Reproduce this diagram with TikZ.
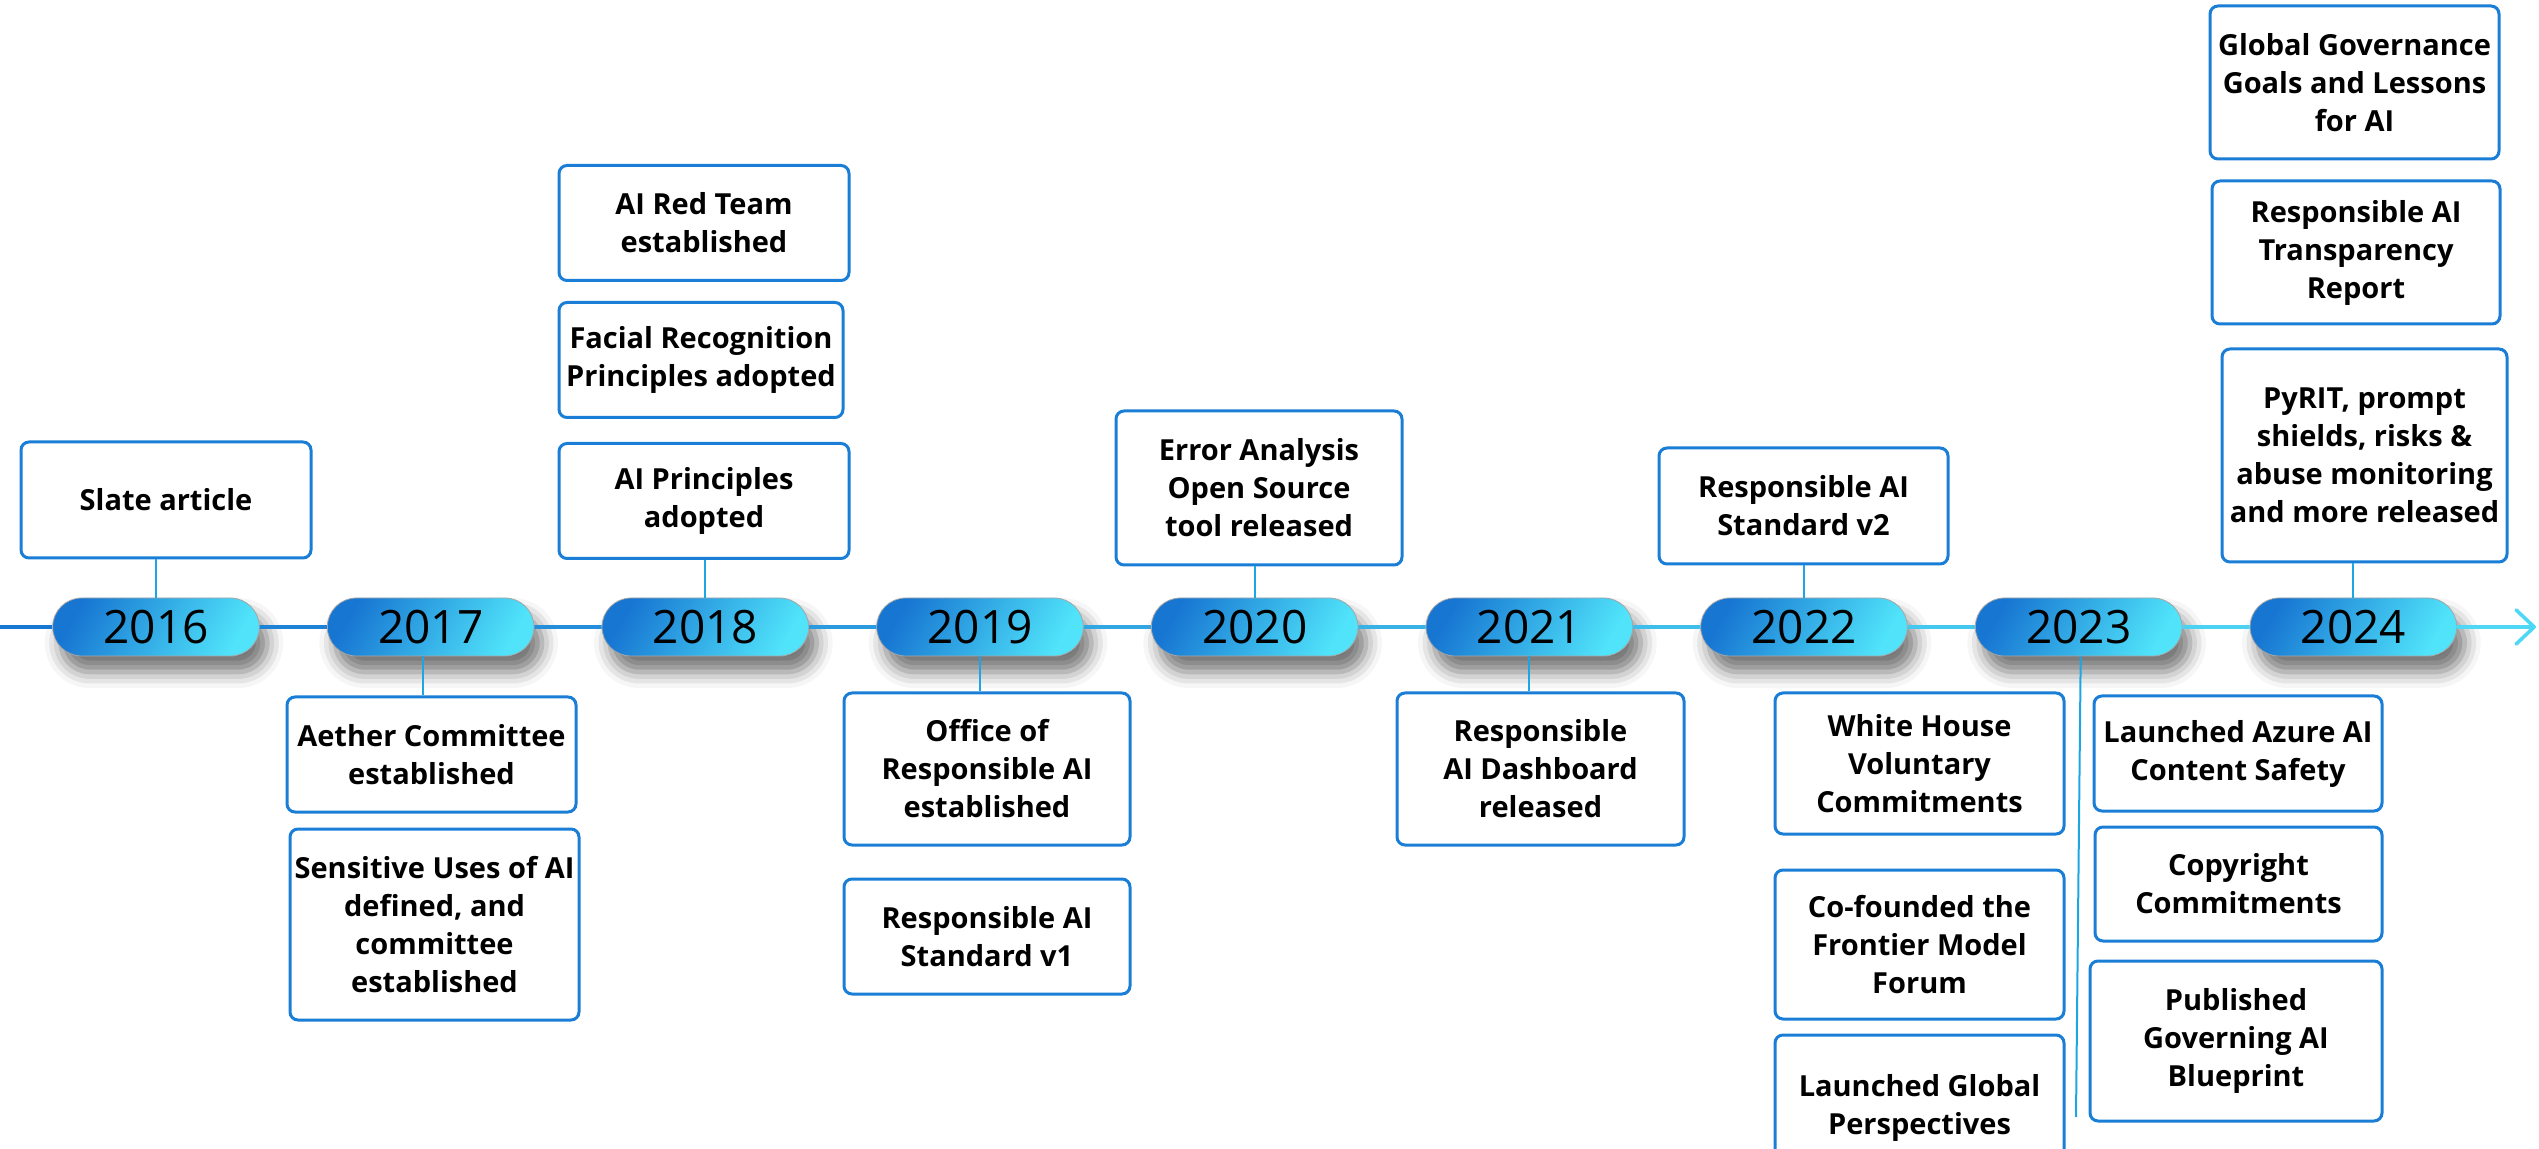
\documentclass[tikz,border=0pt]{standalone}
\usepackage{fontspec}
\setmainfont{Open Sans}
\usepackage{tikz}
\usetikzlibrary{arrows.meta, shapes.misc, shadows.blur, calc}
\definecolor{boxblue}{HTML}{1A7ED6}
\definecolor{linkblue}{HTML}{1CA6E2}
\definecolor{pilldark}{HTML}{1776D2}
\definecolor{pilllight}{HTML}{50E3FA}
\definecolor{linedark}{HTML}{1877D3}
\definecolor{linelight}{HTML}{4ED8F5}
\tikzset{>=latex}

\begin{document}
\begin{tikzpicture}[x=0.5pt, y=-0.5pt,
  event/.style={draw=boxblue, line width=1.5pt, rounded corners=4pt, fill=white,
    align=center, inner sep=1pt, font=\fontsize{14.5}{19}\selectfont\bfseries},
  year/.style={rounded rectangle, minimum width=110pt, minimum height=29pt,
    draw=black!35, line width=0.4pt, left color=pilldark, right color=pilllight,
    shading angle=60, font=\fontsize{23}{27}\selectfont,
    blur shadow={shadow xshift=4pt, shadow yshift=-8pt, shadow blur radius=8pt, shadow opacity=55}},
  spine/.style={line width=1.8pt},
  link/.style={draw=linkblue, line width=1pt}]
\useasboundingbox (0,0) rectangle (2539,1149);

% years on the time line
\foreach \yr [count=\i from 0] in {2016,2017,2018,2019,2020,2021,2022,2023,2024}
  \node[year] (y\yr) at ({156+274.67*\i}, 627) {\yr};

\coordinate (tstart) at (0,627);
\coordinate (tend) at (2536,627);
\foreach \a/\b/\p in {tstart/y2016/0, y2016/y2017/12, y2017/y2018/24, y2018/y2019/36,
  y2019/y2020/48, y2020/y2021/60, y2021/y2022/72, y2022/y2023/84, y2023/y2024/94}
  \draw[spine, draw=linelight!\p!linedark] (\a) -- (\b);
\draw[spine, draw=linelight, line cap=round,
  -{Straight Barb[length=9pt, width=17pt, line cap=round, line join=round]}] (y2024) -- (tend);

% above the line
\node[event, minimum width=145pt, minimum height=58pt] (s2016) at (166,500) {Slate article};
\node[event, minimum width=145pt, minimum height=57.5pt] (r2018a) at (704,223) {AI Red Team\\established};
\node[event, minimum width=142pt, minimum height=57.5pt] (r2018b) at (701,360) {Facial Recognition\\Principles adopted};
\node[event, minimum width=145pt, minimum height=57.5pt] (r2018c) at (704,501) {AI Principles\\adopted};
\node[event, minimum width=143pt, minimum height=77pt] (e2020) at (1259,488) {Error Analysis\\Open Source\\tool released};
\node[event, minimum width=144.5pt, minimum height=58pt] (v2022) at (1803.5,506) {Responsible AI\\Standard v2};
\node[event, minimum width=144.5pt, minimum height=76.5pt] (g2024a) at (2354.5,82.5) {Global Governance\\Goals and Lessons\\for AI};
\node[event, minimum width=144pt, minimum height=71.5pt] (g2024b) at (2356,252.5) {Responsible AI\\Transparency\\Report};
\node[event, minimum width=142.5pt, minimum height=106.5pt] (g2024c) at (2364.5,455.5) {PyRIT, prompt\\shields, risks \&\\abuse monitoring\\and more released};

% below the line
\node[event, minimum width=144.5pt, minimum height=57.5pt] (b2017a) at (431.5,754.5) {Aether Committee\\established};
\node[event, minimum width=144.5pt, minimum height=95.5pt] (b2017b) at (434.5,924.5) {Sensitive Uses of AI\\defined, and\\committee\\established};
\node[event, minimum width=143pt, minimum height=76pt] (o2019a) at (987,769) {Office of\\Responsible AI\\established};
\node[event, minimum width=143pt, minimum height=57.5pt] (o2019b) at (987,936.5) {Responsible AI\\Standard v1};
\node[event, minimum width=143.5pt, minimum height=76pt] (d2021) at (1540.5,769) {Responsible\\AI Dashboard\\released};
\node[event, minimum width=144.5pt, minimum height=70.5pt] (w2022a) at (1919.5,763.5) {White House\\Voluntary\\Commitments};
\node[event, minimum width=144.5pt, minimum height=74.5pt] (w2022b) at (1919.5,944.5) {Co-founded the\\Frontier Model\\Forum};
\node[event, minimum width=144.5pt, minimum height=72.5pt] (w2022c) at (1919.5,1107.5) {Launched Global\\Perspectives};
\node[event, minimum width=144pt, minimum height=57.5pt] (a2023a) at (2238,753.5) {Launched Azure AI\\Content Safety};
\node[event, minimum width=143.5pt, minimum height=57pt] (a2023b) at (2238.5,884) {Copyright\\Commitments};
\node[event, minimum width=146pt, minimum height=80pt] (a2023c) at (2236,1041) {Published\\Governing AI\\Blueprint};

% connectors
\draw[link] (y2016.north) -- (y2016.north |- s2016.south);
\draw[link] (y2018.north) -- (y2018.north |- r2018c.south);
\draw[link] (y2020.north) -- (y2020.north |- e2020.south);
\draw[link] (y2022.north) -- (y2022.north |- v2022.south);
\draw[link] (y2024.north) -- (y2024.north |- g2024c.south);
\draw[link] ([xshift=-4pt]y2017.south) -- ([xshift=-4pt]y2017.south |- b2017a.north);
\draw[link] (y2019.south) -- (y2019.south |- o2019a.north);
\draw[link] (y2021.south) -- (y2021.south |- d2021.north);
\coordinate (c2023) at (2076,1117);
\draw[link] ([xshift=1pt]y2023.south) -- (c2023);
\end{tikzpicture}
\end{document}
